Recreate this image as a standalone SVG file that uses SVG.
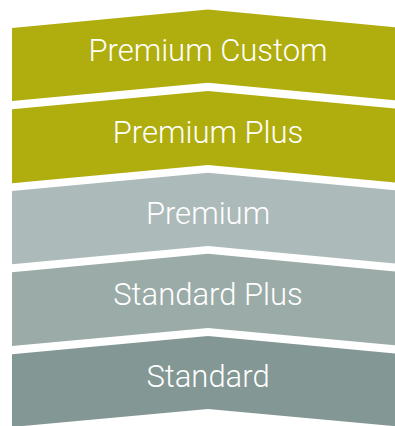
<svg xmlns="http://www.w3.org/2000/svg" width="395" height="426" viewBox="0 0 395 426">
<style>
  .lbl { font-family: Roboto, "Liberation Sans", Arial, sans-serif; font-weight: 300; font-size: 31px; fill: #ffffff; text-anchor: middle; }
  .olive { fill: #B0AD0E; }
  .g1 { fill: #ADBABA; }
  .g2 { fill: #9AABA8; }
  .g3 { fill: #839794; }
</style>
<rect width="395" height="426" fill="#ffffff"/>
<g id="premium-custom">
  <polygon class="olive" points="12,28 208,9.5 404,28 404,101 208,82.7 12,101"/>
  <text class="lbl" x="208" y="60.7">Premium Custom</text>
</g>
<g id="premium-plus">
  <polygon class="olive" points="12,109.3 208,91 404,109.3 404,183.3 208,165 12,183.3"/>
  <text class="lbl" x="208" y="142.7">Premium Plus</text>
</g>
<g id="premium">
  <polygon class="g1" points="12,191 208,172.7 404,191 404,264.3 208,246 12,264.3"/>
  <text class="lbl" x="208" y="224">Premium</text>
</g>
<g id="standard-plus">
  <polygon class="g2" points="12,272.3 208,253.7 404,272.3 404,346 208,328 12,346"/>
  <text class="lbl" x="208" y="305">Standard Plus</text>
</g>
<g id="standard">
  <polygon class="g3" points="12,354.3 208,336 404,354.3 404,427 208,409 12,427"/>
  <text class="lbl" x="208" y="386.7">Standard</text>
</g>
<g id="connectors"/>
</svg>
